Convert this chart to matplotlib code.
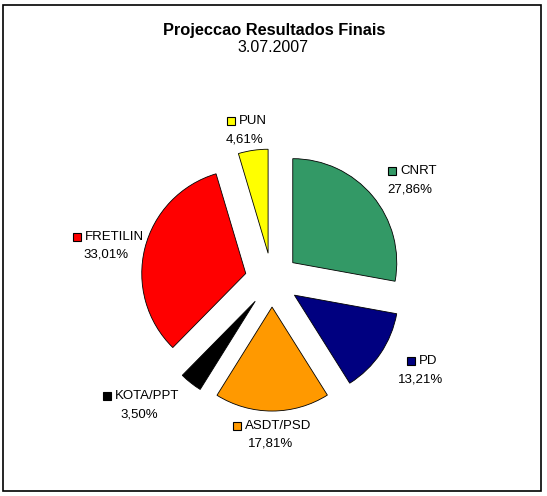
import matplotlib.pyplot as plt
import numpy as np
from matplotlib.patches import Rectangle

# Dados
partidos = ['CNRT', 'PD', 'ASDT/PSD', 'KOTA/PPT', 'FRETILIN', 'PUN']
percent = [27.86, 13.21, 17.81, 3.50, 33.01, 4.61]
cores = ['#339966', '#000080', '#FF9900', '#000000', '#FF0000', '#FFFF00']

W, H = 547, 496
plt.rcParams['font.family'] = ['Liberation Sans', 'DejaVu Sans']

fig = plt.figure(figsize=(W / 100, H / 100), dpi=100)
ax = fig.add_axes([0, 0, 1, 1])

# moldura
fig.patches.append(Rectangle((3 / W, 5 / H), 538 / W, 486 / H, transform=fig.transFigure,
                             fill=False, edgecolor='black', linewidth=1.2))

cx, cy, r = 272, H - 280, 104
expl = 0.26
wedges, _ = ax.pie(percent, colors=cores, startangle=90, counterclock=False,
                   explode=[expl * r] * len(percent), center=(cx, cy), radius=r,
                   wedgeprops=dict(edgecolor='black', linewidth=0.6), frame=True)
ax.set_xlim(0, W)
ax.set_ylim(0, H)
ax.axis('off')

fig.text(274.5 / W, 1 - 31 / H, 'Projeccao Resultados Finais', ha='center', va='center',
         fontsize=11.8, fontweight='bold')
fig.text(273 / W, 1 - 48 / H, '3.07.2007', ha='center', va='center', fontsize=11.5)

# rotulos: distancia (em raios) e desvio angular (graus, sentido horario)
dist = [1.39, 1.40, 1.21, 1.48, 1.37, 1.22]
desvio = [3.5, -3.4, 0.7, 8.8, -1.7, -1.8]
fig.canvas.draw()
rend = fig.canvas.get_renderer()
for w, nome, p, c, d, da in zip(wedges, partidos, percent, cores, dist, desvio):
    ang = np.deg2rad((w.theta1 + w.theta2) / 2 - da)
    lx = cx + (expl + d) * r * np.cos(ang)
    ly = cy + (expl + d) * r * np.sin(ang) - 2
    t = ax.text(lx + 8, ly + 9, nome, ha='center', va='center', fontsize=9.5)
    bb = t.get_window_extent(rend)
    ax.plot(bb.x0 - 8, ly + 9, marker='s', markersize=6, markerfacecolor=c,
            markeredgecolor='black', markeredgewidth=0.8)
    ax.text(lx, ly - 9, f'{p:.2f}%'.replace('.', ','), ha='center', va='center', fontsize=9.5)

fig.savefig('out.png', dpi=100)
